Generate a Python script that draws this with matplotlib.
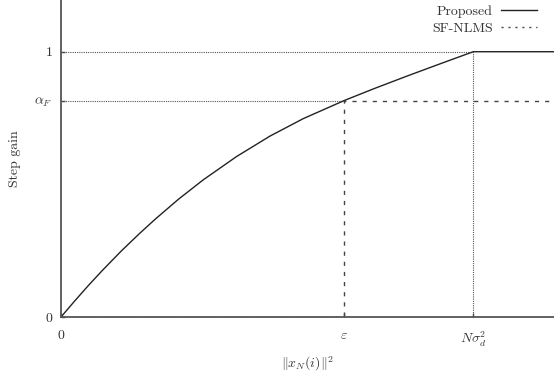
import matplotlib
matplotlib.use('Agg')
import matplotlib.pyplot as plt
from matplotlib.lines import Line2D

plt.rcParams['font.family'] = ['cmr10', 'DejaVu Serif']
plt.rcParams['mathtext.fontset'] = 'cm'
plt.rcParams['axes.unicode_minus'] = False
plt.rcParams['font.size'] = 10

# step gain of the proposed rule vs. input energy (normalised so N*sigma_d^2 = 1)
curve_x = [0.0, 0.033, 0.066, 0.100, 0.147, 0.190, 0.228, 0.285, 0.345,
           0.426, 0.507, 0.588, 0.687, 0.758, 0.839, 0.919, 1.0]
curve_y = [0.0, 0.060, 0.118, 0.175, 0.250, 0.314, 0.368, 0.444, 0.517,
           0.605, 0.682, 0.748, 0.816, 0.860, 0.908, 0.954, 1.0]

eps = 0.687        # switching threshold of SF-NLMS
alpha_f = 0.816    # SF-NLMS gain above the threshold
n_sigma = 1.0      # N * sigma_d^2
x_max = 1.196
y_max = 1.195

x_ticks = [0, eps, n_sigma]
x_tick_labels = ['0', r'$\varepsilon$', r'$N\sigma_d^2$']
y_ticks = [0, alpha_f, 1]
y_tick_labels = ['0', r'$\alpha_F$', '1']

fig = plt.figure(figsize=(5.54, 3.73), dpi=100)
ax = fig.add_axes([61 / 554, 56 / 373, 1 - 61 / 554, 1 - 56 / 373])

# guide lines
dot = dict(color='#555555', lw=0.8, linestyle=(0, (1, 1)))
ax.plot([0, n_sigma], [1, 1], **dot)
ax.plot([0, eps], [alpha_f, alpha_f], **dot)
ax.plot([n_sigma, n_sigma], [0, 1], **dot)

# SF-NLMS: zero below eps, alpha_f above
sf_x = [0, eps, eps, x_max]
sf_y = [0, 0, alpha_f, alpha_f]
ax.plot(sf_x, sf_y, color='#444444', lw=1.0, linestyle=(0, (3, 4.3)))

# proposed: smooth rise, saturating at 1
prop_x = curve_x + [x_max]
prop_y = curve_y + [1.0]
prop_line, = ax.plot(prop_x, prop_y, color='#222222', lw=1.0)

ax.set_xlim(0, x_max)
ax.set_ylim(0, y_max)
ax.set_xticks(x_ticks)
ax.set_xticklabels(x_tick_labels)
ax.set_yticks(y_ticks)
ax.set_yticklabels(y_tick_labels)
ax.tick_params(direction='in', length=3, width=1.0, color='#444444',
               labelcolor='#333333')
ax.tick_params(axis='x', pad=9)
ax.tick_params(axis='y', pad=6)

for side in ['top', 'right']:
    ax.spines[side].set_visible(False)
for side in ['left', 'bottom']:
    ax.spines[side].set_color('#555555')
    ax.spines[side].set_linewidth(1.3)

ax.set_xlabel(r'$\|x_N(i)\|^2$', color='#333333', labelpad=4)
ax.set_ylabel('Step gain', color='#333333', labelpad=10)

# legend sample for SF-NLMS uses a finer dash
sf_key = Line2D([], [], color='#444444', lw=1.0, linestyle=(0, (1.5, 3.5)))
leg = ax.legend([prop_line, sf_key], ['Proposed', 'SF-NLMS'],
                loc='upper right', bbox_to_anchor=(537 / 554, 1 - 5 / 373),
                bbox_transform=fig.transFigure, markerfirst=False,
                frameon=False, borderaxespad=0, borderpad=0,
                handlelength=2.6, handletextpad=0.6, labelspacing=0.35)
for t in leg.get_texts():
    t.set_color('#333333')

fig.savefig('out.png', dpi=100)
